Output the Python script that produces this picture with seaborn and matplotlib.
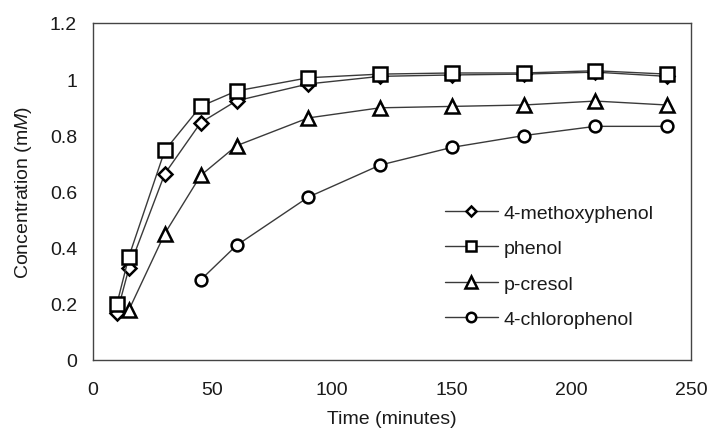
import numpy as np
import pandas as pd
import matplotlib
matplotlib.use("Agg")
import matplotlib.pyplot as plt
import seaborn as sns

times = [10, 15, 30, 45, 60, 90, 120, 150, 180, 210, 240]
methoxyphenol = [0.167, 0.326, 0.663, 0.845, 0.923, 0.983, 1.010, 1.015, 1.018, 1.025, 1.010]
phenol = [0.200, 0.368, 0.746, 0.903, 0.958, 1.005, 1.018, 1.022, 1.022, 1.030, 1.018]
cresol_times = [15, 30, 45, 60, 90, 120, 150, 180, 210, 240]
cresol = [0.178, 0.450, 0.657, 0.763, 0.862, 0.898, 0.903, 0.908, 0.922, 0.908]
chloro_times = [45, 60, 90, 120, 150, 180, 210, 240]
chlorophenol = [0.285, 0.408, 0.580, 0.694, 0.757, 0.799, 0.832, 0.832]

labels = ["4-methoxyphenol", "phenol", "p-cresol", "4-chlorophenol"]
x_ticks = [0, 50, 100, 150, 200, 250]
y_ticks = [0, 0.2, 0.4, 0.6, 0.8, 1.0, 1.2]
y_tick_labels = ["0", "0.2", "0.4", "0.6", "0.8", "1", "1.2"]

sns.set_style("white")
plt.rcParams["font.family"] = ["Liberation Sans", "DejaVu Sans"]
plt.rcParams["mathtext.fontset"] = "custom"
plt.rcParams["mathtext.it"] = "Liberation Sans:italic"
plt.rcParams["mathtext.rm"] = "Liberation Sans"

FS = 14
TXT = "#1a1a1a"
fig = plt.figure(figsize=(7.10, 4.39), dpi=100)
ax = fig.add_axes([93 / 710, 1 - 361 / 439, (691 - 93) / 710, (361 - 24) / 439])

series = [
    (times, methoxyphenol, "D", 7),
    (times, phenol, "s", 9.8),
    (cresol_times, cresol, "^", 10),
    (chloro_times, chlorophenol, "o", 8.5),
]
for (xs, ys, mk, ms), lab in zip(series, labels):
    df = pd.DataFrame({"t": xs, "c": ys})
    sns.lineplot(data=df, x="t", y="c", ax=ax, color="#3a3a3a", linewidth=1.0,
                 marker=mk, markersize=ms, markerfacecolor="white",
                 markeredgecolor="black", markeredgewidth=1.8, label=lab)

ax.set_xlim(0, 250)
ax.set_ylim(0, 1.2)
ax.set_xticks(x_ticks)
ax.set_xticklabels([str(v) for v in x_ticks])
ax.set_yticks(y_ticks)
ax.set_yticklabels(y_tick_labels)
ax.tick_params(direction="in", length=5, width=1, labelsize=FS, colors=TXT)
ax.tick_params(axis="x", pad=15)
ax.tick_params(axis="y", pad=11.5)
for sp in ax.spines.values():
    sp.set_visible(True)
    sp.set_color("#444444")
    sp.set_linewidth(1.0)

ax.set_xlabel("Time (minutes)", fontsize=FS, color=TXT, labelpad=9)
ax.set_ylabel("Concentration (m$M$)", fontsize=FS, color=TXT, labelpad=11)

leg = ax.legend(loc="upper left", bbox_to_anchor=(445 / 710, 1 - 205 / 439),
                bbox_transform=fig.transFigure, frameon=False, fontsize=FS,
                handlelength=2.7, handletextpad=0.3, labelspacing=0.92,
                borderpad=0, borderaxespad=0, markerscale=0.8)
for t in leg.get_texts():
    t.set_color(TXT)

fig.savefig("out.png", dpi=100)
